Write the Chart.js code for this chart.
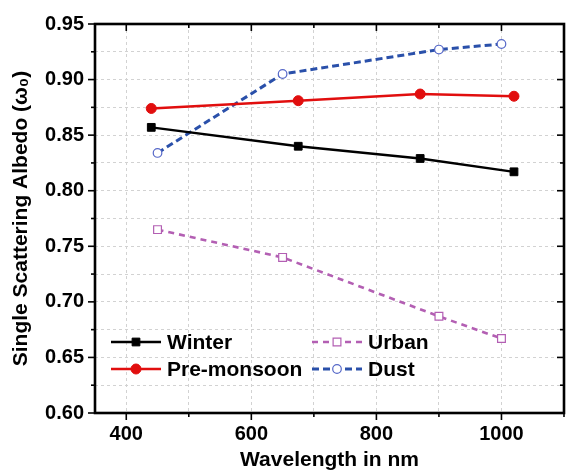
<!DOCTYPE html>
<html><head><meta charset="utf-8">
<script src="https://cdn.jsdelivr.net/npm/chart.js@4"></script>
<style>html,body{margin:0;padding:0;background:#fff;}</style>
</head><body>
<canvas id="c" width="573" height="473"></canvas>
<script>
const seasonWavelengths = [440, 675, 870, 1020];
const winterValues = [0.857, 0.840, 0.829, 0.817];
const preMonsoonValues = [0.874, 0.881, 0.887, 0.885];
const modelWavelengths = [450, 650, 900, 1000];
const urbanValues = [0.765, 0.740, 0.687, 0.667];
const dustValues = [0.834, 0.905, 0.927, 0.932];
const xTickLabels = [400, 600, 800, 1000];
const yTickLabels = ['0.60','0.65','0.70','0.75','0.80','0.85','0.90','0.95'];

const FONT = 'Liberation Sans, Arial, sans-serif';
const pts = (xs, ys) => xs.map((x, i) => ({x, y: ys[i]}));
const isMajorY = v => yTickLabels.some(l => Math.abs(parseFloat(l) - v) < 1e-6);
const isMajorX = v => xTickLabels.includes(Math.round(v));

function drawMarker(ctx, ds, x, y) {
  ctx.save();
  ctx.setLineDash([]);
  ctx.lineWidth = ds.pointBorderWidth;
  ctx.strokeStyle = ds.pointBorderColor;
  ctx.fillStyle = ds.pointBackgroundColor;
  const r = ds.pointRadius;
  ctx.beginPath();
  if (ds.pointStyle === 'rect') {
    const s = r * Math.SQRT1_2;
    ctx.rect(x - s, y - s, 2 * s, 2 * s);
  } else {
    ctx.arc(x, y, r, 0, Math.PI * 2);
  }
  ctx.fill();
  ctx.stroke();
  ctx.restore();
}

const frameTicks = {
  id: 'frameTicks',
  afterDatasetsDraw(chart) {
    const {ctx, chartArea: a, scales: {x, y}} = chart;
    ctx.save();
    ctx.strokeStyle = '#000';
    ctx.lineWidth = 1.6;
    const ln = (x1, y1, x2, y2) => { ctx.beginPath(); ctx.moveTo(x1, y1); ctx.lineTo(x2, y2); ctx.stroke(); };
    x.ticks.forEach(t => {
      const px = x.getPixelForValue(t.value);
      const len = isMajorX(t.value) ? 7 : 4;
      ln(px, a.bottom, px, a.bottom + len);
      ln(px, a.top, px, a.top + len);
    });
    y.ticks.forEach(t => {
      const py = y.getPixelForValue(t.value);
      const len = isMajorY(t.value) ? 7 : 4;
      ln(a.left, py, a.left - len, py);
      ln(a.right, py, a.right - len, py);
    });
    ctx.lineWidth = 2.6;
    ctx.strokeRect(a.left, a.top, a.right - a.left, a.bottom - a.top);
    ctx.restore();
  }
};

const customLegend = {
  id: 'customLegend',
  afterDraw(chart) {
    const {ctx, chartArea: a} = chart;
    const sets = chart.data.datasets;
    const cells = [
      {ds: sets[0], col: 0, row: 0},
      {ds: sets[1], col: 0, row: 1},
      {ds: sets[2], col: 1, row: 0},
      {ds: sets[3], col: 1, row: 1}
    ];
    ctx.save();
    ctx.font = 'bold 21px ' + FONT;
    ctx.textBaseline = 'middle';
    ctx.fillStyle = '#000';
    cells.forEach(c => {
      const x0 = a.left + 16 + c.col * 201;
      const yy = a.bottom - 71 + c.row * 27;
      ctx.save();
      ctx.strokeStyle = c.ds.borderColor;
      ctx.lineWidth = c.ds.borderWidth;
      ctx.setLineDash(c.ds.borderDash || []);
      ctx.beginPath(); ctx.moveTo(x0, yy); ctx.lineTo(x0 + 50, yy); ctx.stroke();
      ctx.restore();
      drawMarker(ctx, c.ds, x0 + 25, yy);
      ctx.fillStyle = '#000';
      ctx.fillText(c.ds.label, x0 + 56, yy + 1);
    });
    ctx.restore();
  }
};

new Chart(document.getElementById('c'), {
  type: 'line',
  data: {
    datasets: [
      {label: 'Winter', data: pts(seasonWavelengths, winterValues), borderColor: '#000', borderWidth: 2.4,
       pointStyle: 'rect', pointRadius: 5.5, pointBackgroundColor: '#000', pointBorderColor: '#000', pointBorderWidth: 1},
      {label: 'Pre-monsoon', data: pts(seasonWavelengths, preMonsoonValues), borderColor: '#e10e0e', borderWidth: 2.4,
       pointStyle: 'circle', pointRadius: 5, pointBackgroundColor: '#e10e0e', pointBorderColor: '#e10e0e', pointBorderWidth: 1},
      {label: 'Urban', data: pts(modelWavelengths, urbanValues), borderColor: '#b35fb3', borderWidth: 2.6, borderDash: [6, 5],
       pointStyle: 'rect', pointRadius: 5.5, pointBackgroundColor: '#fff', pointBorderColor: '#b35fb3', pointBorderWidth: 1.2},
      {label: 'Dust', data: pts(modelWavelengths, dustValues), borderColor: '#2a50aa', borderWidth: 3, borderDash: [7, 4],
       pointStyle: 'circle', pointRadius: 4.3, pointBackgroundColor: '#fff', pointBorderColor: '#5668c8', pointBorderWidth: 1.2}
    ]
  },
  options: {
    responsive: false,
    animation: false,
    devicePixelRatio: 1,
    layout: {padding: {left: 0, right: 3, top: 24, bottom: 0}},
    plugins: {legend: {display: false}, tooltip: {enabled: false}},
    scales: {
      x: {
        type: 'linear', min: 350, max: 1100,
        afterFit: s => { s.height = 60; },
        ticks: {stepSize: 100, includeBounds: false, padding: 9, color: '#000', maxRotation: 0,
          font: {family: FONT, size: 20, weight: 'bold'},
          callback: v => xTickLabels.includes(v) ? String(v) : ''},
        grid: {color: '#d2d2d2', lineWidth: 1, drawTicks: false},
        border: {display: false, dash: [3, 3]},
        title: {display: true, text: 'Wavelength in nm', color: '#000', padding: {top: 0, bottom: 0},
          font: {family: FONT, size: 21, weight: 'bold'}}
      },
      y: {
        min: 0.6, max: 0.95,
        afterFit: s => { s.width = 95; },
        ticks: {stepSize: 0.025, padding: 11, color: '#000',
          font: {family: FONT, size: 20, weight: 'bold'},
          callback: v => { const l = yTickLabels.find(t => Math.abs(parseFloat(t) - v) < 1e-6); return l || ''; }},
        grid: {color: '#d2d2d2', lineWidth: 1, drawTicks: false},
        border: {display: false, dash: [3, 3]},
        title: {display: true, text: 'Single Scattering Albedo (ω₀)', color: '#000', padding: {top: 9, bottom: 0},
          font: {family: FONT, size: 21, weight: 'bold'}}
      }
    }
  },
  plugins: [frameTicks, customLegend]
});
</script>
</body></html>
